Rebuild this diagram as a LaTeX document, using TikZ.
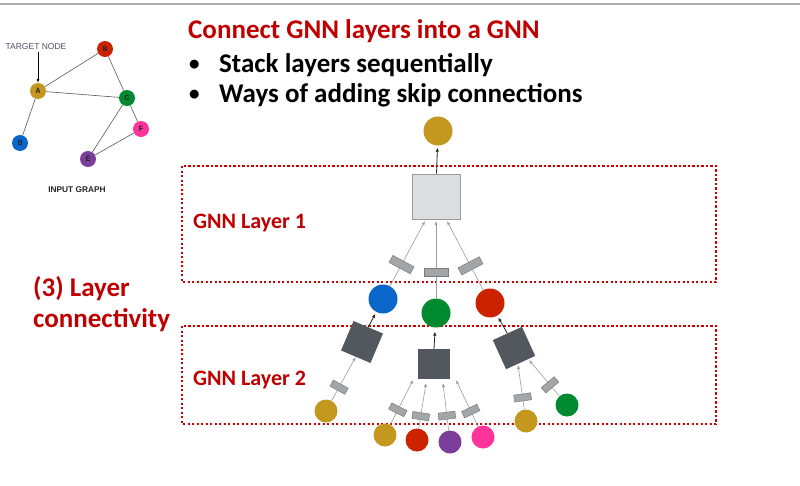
\documentclass[tikz,border=0pt]{standalone}
\usepackage{fontspec}
\setmainfont{Carlito}
\newfontfamily\arialf{Liberation Sans}
\newfontfamily\monof{Liberation Mono}
\usetikzlibrary{arrows.meta}
\definecolor{cgold}{HTML}{C4981E}
\definecolor{cblue}{HTML}{0A66C8}
\definecolor{cgreen}{HTML}{008A30}
\definecolor{cred}{HTML}{CC2200}
\definecolor{cpurple}{HTML}{7B3F9B}
\definecolor{cpink}{HTML}{FF3399}
\definecolor{titlered}{HTML}{C00000}
\definecolor{boxred}{HTML}{CC0000}
\definecolor{sqlight}{HTML}{DCDDE0}
\definecolor{sqborder}{HTML}{9A9A9A}
\definecolor{sqdark}{HTML}{53575E}
\definecolor{msgfill}{HTML}{A3A6A8}
\definecolor{msgborder}{HTML}{7A7D80}
\definecolor{linegray}{HTML}{9C9C9C}
\definecolor{tntext}{HTML}{4A5262}
\definecolor{topline}{HTML}{ADADAD}
\begin{document}
\begin{tikzpicture}[x=1pt,y=-1pt,
  bigtext/.style={font=\bfseries\fontsize{27}{30}\selectfont, inner sep=0, anchor=base west},
  bullettext/.style={font=\bfseries\fontsize{21}{24}\selectfont, inner sep=0, anchor=base west},
  laytext/.style={font=\bfseries\fontsize{22}{26}\selectfont, inner sep=0, anchor=base west, text=titlered},
  gnode/.style={circle, minimum size=16pt, inner sep=0, font=\monof\bfseries\fontsize{8}{8}\selectfont, text=black!85},
  gedge/.style={draw=black!65, line width=0.6pt},
  bignode/.style={circle, minimum size=29pt, inner sep=0},
  smallnode/.style={circle, minimum size=23pt, inner sep=0},
  lightsq/.style={draw=sqborder, fill=sqlight, minimum width=48pt, minimum height=45pt, inner sep=0, line width=0.8pt},
  darksq/.style={fill=sqdark, minimum size=32pt, inner sep=0},
  msgA/.style={draw=msgborder, fill=msgfill, minimum width=8pt, minimum height=24pt, inner sep=0, sloped, line width=0.5pt},
  msgB/.style={draw=msgborder, fill=msgfill, minimum width=7pt, minimum height=17pt, inner sep=0, sloped, line width=0.5pt},
  inline/.style={draw=linegray, line width=0.6pt, -{Latex[length=4pt,width=3pt]}},
  outarrow/.style={draw=black!85, line width=0.8pt, -{Latex[length=4pt,width=3.5pt]}, shorten >=2pt},
  layerbox/.style={draw=boxred, line width=2.2pt, dash pattern=on 2.2pt off 2.3pt}
]
\useasboundingbox (0,0) rectangle (800,485);
\fill[white] (0,0) rectangle (800,485);
\draw[topline, line width=1.5pt] (0,4) -- (800,4);

% ---------- texts ----------
\node[bigtext, text=titlered] (title) at (188,38) {Connect GNN layers into a GNN};
\node[bullettext] (b1) at (189,70) {•};
\node[bigtext] (t1) at (219,72) {Stack layers sequentially};
\node[bullettext] (b2) at (189,100) {•};
\node[bigtext] (t2) at (219,102) {Ways of adding skip connections};
\node[bigtext, text=titlered] (lc1) at (33,296) {(3) Layer};
\node[bigtext, text=titlered] (lc2) at (33,327) {connectivity};

% ---------- layer boxes ----------
\draw[layerbox] (182,166) rectangle (716,282);
\draw[layerbox] (182,326) rectangle (716,424);
\node[laytext] (L1) at (193,228) {GNN Layer 1};
\node[laytext] (L2) at (193,385) {GNN Layer 2};

% ---------- input graph ----------
\node[font=\arialf\fontsize{8.5}{9}\selectfont, text=tntext, inner sep=0] (tn) at (36,47) {TARGET NODE};
\node[gnode, fill=cgold] (A) at (38,91) {A};
\node[gnode, fill=cred] (B) at (105,49) {B};
\node[gnode, fill=cgreen] (C) at (127,98) {C};
\node[gnode, fill=cblue] (D) at (20,143) {D};
\node[gnode, fill=cpurple] (E) at (88,159) {E};
\node[gnode, fill=cpink] (F) at (141,129) {F};
\node[font=\arialf\bfseries\fontsize{8.3}{9}\selectfont, text=black!85, inner sep=0] (ig) at (77,190) {INPUT GRAPH};
\draw[gedge] (A) -- (B);
\draw[gedge] (A) -- (C);
\draw[gedge] (B) -- (C);
\draw[gedge] (A) -- (D);
\draw[gedge] (C) -- (E);
\draw[gedge] (C) -- (F);
\draw[gedge] (E) -- (F);
\draw[black, line width=0.7pt, -{Latex[length=4pt,width=3pt]}] ([yshift=-2pt]tn.south -| A.north) -- (A.north);

% ---------- layer 1 ----------
\node[bignode, fill=cgold] (top) at (438,131) {};
\node[lightsq] (sq1) at (436.5,196.5) {};
\node[bignode, fill=cblue] (n1b) at (383,299) {};
\node[bignode, fill=cgreen] (n1g) at (436,313) {};
\node[bignode, fill=cred] (n1r) at (490,303) {};
\coordinate (i1a) at (425,221);
\coordinate (i1b) at (436,221);
\coordinate (i1c) at (447,221);
\draw[outarrow] (sq1.north) -- (top);
\draw[inline] (n1b) -- node[msgA, pos=0.33] (m1a) {} (i1a);
\draw[inline] (n1g) -- node[msgA, pos=0.34] (m1b) {} (i1b);
\draw[inline] (n1r) -- node[msgA, pos=0.35] (m1c) {} (i1c);

% ---------- layer 2 ----------
\node[darksq, rotate=-23] (sqL) at (362,342) {};
\node[darksq, minimum width=32pt, minimum height=30pt] (sqM) at (434,364) {};
\node[darksq, rotate=24.5] (sqR) at (514,348) {};
\draw[outarrow] (sqL.north) -- (n1b);
\draw[outarrow, shorten >=4pt] (sqM.north) -- (n1g);
\draw[outarrow] (sqR.north) -- (n1r);

\node[smallnode, fill=cgold] (lg) at (326,411) {};
\node[smallnode, fill=cgold] (mg) at (385,435) {};
\node[smallnode, fill=cred] (mr) at (417,440) {};
\node[smallnode, fill=cpurple] (mp) at (450,442) {};
\node[smallnode, fill=cpink] (mk) at (483,437) {};
\node[smallnode, fill=cgold] (rg) at (526,421) {};
\node[smallnode, fill=cgreen] (rn) at (567,405) {};

\coordinate (iM1) at (413,380);
\coordinate (iM2) at (426,383);
\coordinate (iM3) at (443,383);
\coordinate (iM4) at (456,380);
\coordinate (iR1) at (518,365);
\coordinate (iR2) at (529,360);

\draw[inline] (lg) -- node[msgB, pos=0.31] (m2a) {} (sqL.south);
\draw[inline] (mg) -- node[msgB, pos=0.33] (m2b) {} (iM1);
\draw[inline] (mr) -- node[msgB, pos=0.27] (m2c) {} (iM2);
\draw[inline] (mp) -- node[msgB, pos=0.31] (m2d) {} (iM3);
\draw[inline] (mk) -- node[msgB, pos=0.33] (m2e) {} (iM4);
\draw[inline] (rg) -- node[msgB, pos=0.27] (m2f) {} (iR1);
\draw[inline] (rn) -- node[msgB, pos=0.31] (m2g) {} (iR2);
\end{tikzpicture}
\end{document}
